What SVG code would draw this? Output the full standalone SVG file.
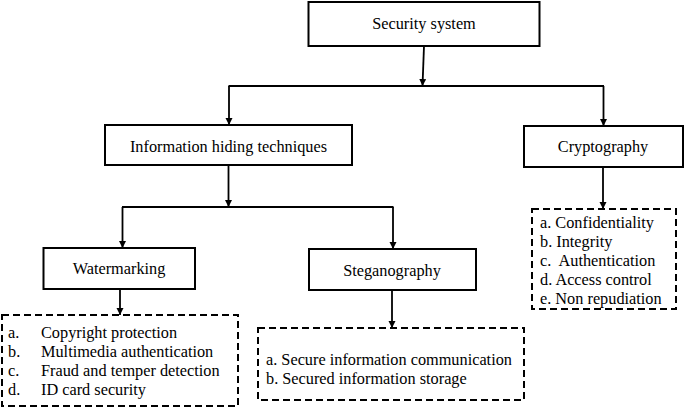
<svg xmlns="http://www.w3.org/2000/svg" width="685" height="408" viewBox="0 0 685 408">
<defs>
<style>
.box{fill:#fff;stroke:#000;stroke-width:2}
.dbox{fill:#fff;stroke:#000;stroke-width:2;stroke-dasharray:7 4}
.t{font-size:16.3px;fill:#000}
.c{text-anchor:middle}
.ln{fill:none;stroke:#000;stroke-width:1.8}
</style>
<marker id="ah" markerUnits="userSpaceOnUse" markerWidth="8" markerHeight="8" refX="7" refY="3.5" orient="auto">
<path d="M0,0 L7,3.5 L0,7 z" fill="#000"/>
</marker>
</defs>
<rect width="685" height="408" fill="#fff"/>
<g id="connectors">
<line class="ln" x1="424" y1="46" x2="422.5" y2="86" marker-end="url(#ah)"/>
<line class="ln" x1="228.5" y1="86" x2="604" y2="86"/>
<line class="ln" x1="229" y1="86" x2="229" y2="125" marker-end="url(#ah)"/>
<line class="ln" x1="603.5" y1="86" x2="603.5" y2="126" marker-end="url(#ah)"/>
<line class="ln" x1="228.5" y1="165" x2="228.5" y2="207" marker-end="url(#ah)"/>
<line class="ln" x1="122" y1="207" x2="393.5" y2="207"/>
<line class="ln" x1="122.5" y1="207" x2="122.5" y2="248" marker-end="url(#ah)"/>
<line class="ln" x1="393" y1="207" x2="393" y2="249" marker-end="url(#ah)"/>
<line class="ln" x1="120" y1="289" x2="120" y2="315" marker-end="url(#ah)"/>
<line class="ln" x1="392" y1="290" x2="392" y2="328" marker-end="url(#ah)"/>
<line class="ln" x1="603" y1="167" x2="603" y2="209" marker-end="url(#ah)"/>
</g>
<g font-family="'Liberation Serif', 'Times New Roman', Tinos, 'DejaVu Serif', serif">
<g id="security">
<rect class="box" x="308.5" y="2" width="231" height="44"/>
<text class="t c" x="424" y="29">Security system</text>
</g>
<g id="info-hiding">
<rect class="box" x="105" y="125" width="247" height="40"/>
<text class="t c" x="228.5" y="152">Information hiding techniques</text>
</g>
<g id="cryptography">
<rect class="box" x="524" y="126" width="159" height="41"/>
<text class="t c" x="603" y="152">Cryptography</text>
</g>
<g id="watermarking">
<rect class="box" x="43.5" y="248" width="151.5" height="41"/>
<text class="t c" x="119" y="274">Watermarking</text>
</g>
<g id="steganography">
<rect class="box" x="309" y="249" width="167" height="41"/>
<text class="t c" x="392" y="276">Steganography</text>
</g>
<g id="crypto-list">
<rect class="dbox" x="532" y="209" width="144" height="100"/>
<text class="t" x="540" y="227.5">a. Confidentiality</text>
<text class="t" x="540" y="246.5">b. Integrity</text>
<text class="t" x="540" y="266" xml:space="preserve">c.  Authentication</text>
<text class="t" x="540" y="285">d. Access control</text>
<text class="t" x="540" y="304">e. Non repudiation</text>
</g>
<g id="watermarking-list">
<rect class="dbox" x="2" y="315" width="236" height="91"/>
<text class="t" x="8" y="337.5">a.</text><text class="t" x="41" y="337.5">Copyright protection</text>
<text class="t" x="8" y="356.7">b.</text><text class="t" x="41" y="356.7">Multimedia authentication</text>
<text class="t" x="8" y="376">c.</text><text class="t" x="41" y="376">Fraud and temper detection</text>
<text class="t" x="8" y="395">d.</text><text class="t" x="41" y="395">ID card security</text>
</g>
<g id="steganography-list">
<rect class="dbox" x="258" y="328" width="266" height="72"/>
<text class="t" x="266" y="365">a. Secure information communication</text>
<text class="t" x="266" y="384">b. Secured information storage</text>
</g>
</g>
</svg>
